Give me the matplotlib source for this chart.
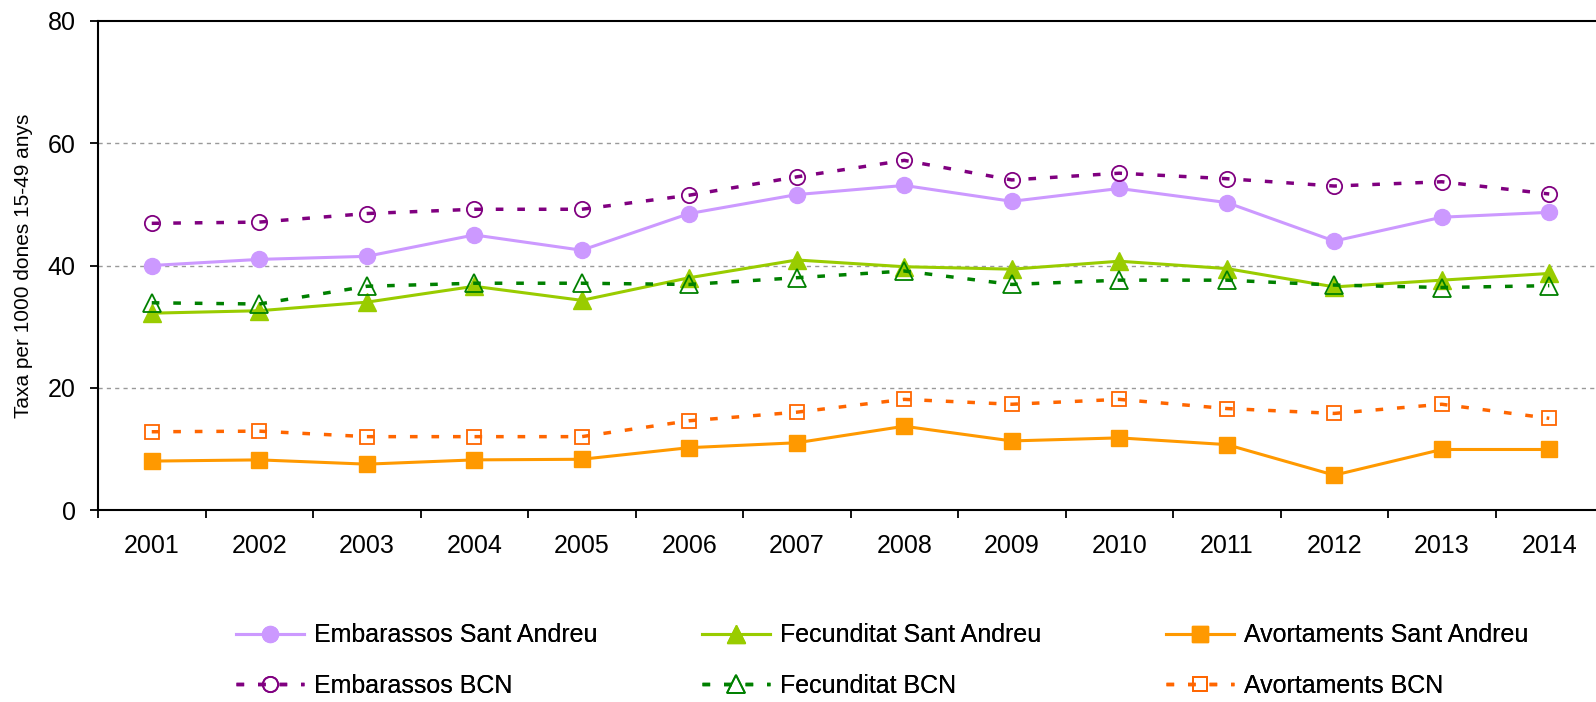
import matplotlib
matplotlib.use('Agg')
import matplotlib.pyplot as plt
import numpy as np

plt.rcParams['font.family'] = ['Liberation Sans', 'DejaVu Sans']

# Dades llegides del gràfic
anys = [2001, 2002, 2003, 2004, 2005, 2006, 2007, 2008, 2009, 2010, 2011, 2012, 2013, 2014]
emb_sa = [40.0, 41.0, 41.5, 45.0, 42.5, 48.5, 51.6, 53.1, 50.5, 52.6, 50.3, 44.0, 47.9, 48.7]
emb_bcn = [46.9, 47.1, 48.5, 49.2, 49.2, 51.5, 54.5, 57.2, 54.0, 55.1, 54.2, 53.0, 53.7, 51.7]
fec_sa = [32.2, 32.6, 34.0, 36.6, 34.3, 38.0, 40.9, 39.8, 39.4, 40.7, 39.5, 36.5, 37.6, 38.7]
fec_bcn = [33.9, 33.7, 36.6, 37.1, 37.1, 36.9, 38.0, 39.1, 36.9, 37.6, 37.6, 36.8, 36.4, 36.7]
av_sa = [8.0, 8.2, 7.5, 8.2, 8.3, 10.2, 11.0, 13.7, 11.3, 11.8, 10.7, 5.7, 9.9, 9.9]
av_bcn = [12.8, 12.9, 12.0, 12.0, 12.0, 14.6, 16.0, 18.1, 17.3, 18.1, 16.6, 15.8, 17.3, 15.0]

fig = plt.figure(figsize=(15.96, 7.02), dpi=100)
ax = fig.add_axes([98 / 1596, 192 / 702, 1505 / 1596, 489 / 702])

x = np.array(anys)
dots = (0, (2.2, 4.0))

# Sèries Sant Andreu (línia contínua)
l1, = ax.plot(x, emb_sa, color='#CC99FF', lw=2.2, marker='o', ms=11.5,
              mfc='#CC99FF', mec='#CC99FF', label='Embarassos Sant Andreu')
l2, = ax.plot(x, fec_sa, color='#99CC00', lw=2.2, marker='^', ms=13,
              mfc='#99CC00', mec='#99CC00', label='Fecunditat Sant Andreu')
l3, = ax.plot(x, av_sa, color='#FF9900', lw=2.2, marker='s', ms=11,
              mfc='#FF9900', mec='#FF9900', label='Avortaments Sant Andreu')

# Sèries BCN (línia puntejada)
l4, = ax.plot(x, emb_bcn, color='#800080', lw=2.5, ls=dots, dash_capstyle='butt',
              marker='o', ms=11, mfc='none', mec='#800080', mew=1.3,
              label='Embarassos BCN')
l5, = ax.plot(x, fec_bcn, color='#008000', lw=2.5, ls=dots, dash_capstyle='butt',
              marker='^', ms=12.5, mfc='none', mec='#008000', mew=1.3,
              label='Fecunditat BCN')
l6, = ax.plot(x, av_bcn, color='#FF6600', lw=2.5, ls=dots, dash_capstyle='butt',
              marker='s', ms=10.5, mfc='none', mec='#FF6600', mew=1.3,
              label='Avortaments BCN')

# Eixos
ax.set_xlim(anys[0] - 0.5, anys[-1] + 0.5)
ax.set_ylim(0, 80)
ax.set_yticks([0, 20, 40, 60, 80])
ax.set_xticks(x)
ax.set_xticks(np.arange(anys[0] - 0.5, anys[-1] + 1.0, 1.0), minor=True)
ax.tick_params(axis='x', which='major', length=0, pad=17, labelsize=18)
ax.tick_params(axis='x', which='minor', length=6, width=1.3, direction='out')
ax.tick_params(axis='y', length=6, width=1.3, pad=10, labelsize=18)

for y in [20, 40, 60]:
    ax.axhline(y, color='#999999', lw=1.0, ls=(0, (3, 3)), zorder=0)

for s in ax.spines.values():
    s.set_linewidth(1.5)
    s.set_color('black')

ax.set_ylabel('Taxa per 1000 dones 15-49 anys', fontsize=15)
ax.yaxis.set_label_coords(-0.043, 0.5)

# Llegenda en tres columnes
cols = [(l1, l4), (l2, l5), (l3, l6)]
xs = [236, 702, 1166]
for (a, b), xp in zip(cols, xs):
    leg = fig.legend(handles=[a, b], loc='center left',
                     bbox_to_anchor=(xp / 1596, 41.5 / 702),
                     bbox_transform=fig.transFigure, frameon=False,
                     fontsize=18, borderpad=0, borderaxespad=0,
                     handlelength=2.7, handletextpad=0.4, labelspacing=1.05)
    fig.add_artist(leg)

fig.savefig('out.png', dpi=100)
